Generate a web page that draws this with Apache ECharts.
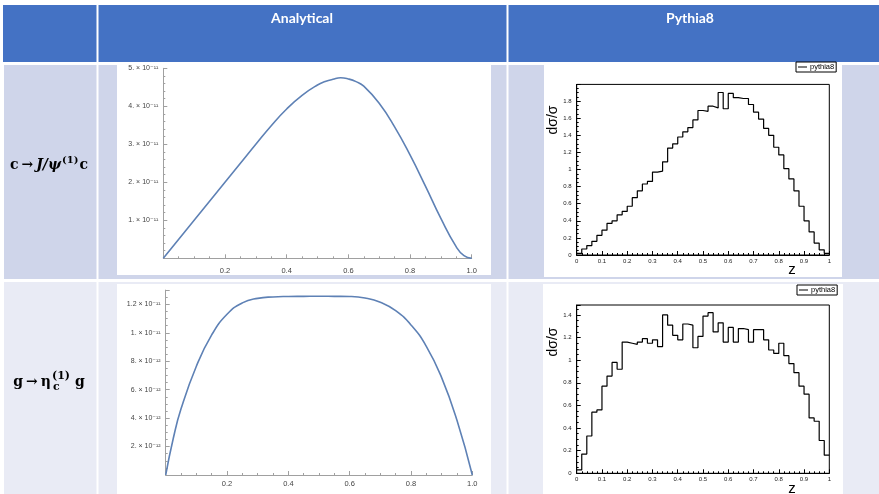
<!DOCTYPE html>
<html><head><meta charset="utf-8">
<script src="https://cdn.jsdelivr.net/npm/echarts@6/dist/echarts.min.js"></script>
<style>html,body{margin:0;padding:0;background:#fff}#c{width:879px;height:494px}</style>
</head><body><div id="c"></div>
<script>
// ---------------- data ----------------
const columnHeaders = ['Analytical', 'Pythia8'];

// Analytical curve, c -> J/psi(1) c
const analyticZ1 = [0, 0.05, 0.1, 0.15, 0.2, 0.25, 0.3, 0.35, 0.4, 0.45, 0.5, 0.525, 0.55, 0.575, 0.6, 0.625, 0.65, 0.7, 0.75, 0.8, 0.85, 0.9, 0.95, 0.975, 1.0];
const analyticV1 = [0, 0.5e-11, 1.0e-11, 1.5e-11, 2.0e-11, 2.5e-11, 3.0e-11, 3.49e-11, 3.93e-11, 4.29e-11, 4.56e-11, 4.65e-11, 4.71e-11, 4.75e-11, 4.72e-11, 4.65e-11, 4.53e-11, 4.08e-11, 3.46e-11, 2.72e-11, 1.90e-11, 1.05e-11, 0.30e-11, 0.07e-11, 0];
const analyticYLabels1 = ['1. × 10⁻¹¹', '2. × 10⁻¹¹', '3. × 10⁻¹¹', '4. × 10⁻¹¹', '5. × 10⁻¹¹'];

// Analytical curve, g -> eta_c(1) g
const analyticZ2 = [0, 0.025, 0.05, 0.1, 0.15, 0.2, 0.25, 0.3, 0.35, 0.4, 0.45, 0.5, 0.55, 0.6, 0.65, 0.7, 0.75, 0.8, 0.85, 0.9, 0.95, 1.0];
const analyticV2 = [0, 2.6e-12, 4.65e-12, 7.65e-12, 9.85e-12, 11.3e-12, 12.1e-12, 12.42e-12, 12.52e-12, 12.55e-12, 12.56e-12, 12.57e-12, 12.56e-12, 12.55e-12, 12.45e-12, 12.15e-12, 11.55e-12, 10.55e-12, 9.05e-12, 6.85e-12, 3.85e-12, 0];
const analyticYLabels2 = ['2. × 10⁻¹²', '4. × 10⁻¹²', '6. × 10⁻¹²', '8. × 10⁻¹²', '1. × 10⁻¹¹', '1.2 × 10⁻¹¹'];

const analyticXLabels = ['0.2', '0.4', '0.6', '0.8', '1.0'];

// Pythia8 histograms, 50 bins on z in [0,1]
const pythiaBins1 = [0.02, 0.07, 0.11, 0.16, 0.23, 0.29, 0.37, 0.40, 0.47, 0.51,
  0.57, 0.67, 0.75, 0.83, 0.86, 0.97, 0.98, 1.09, 1.25, 1.30,
  1.38, 1.44, 1.49, 1.58, 1.69, 1.68, 1.74, 1.72, 1.90, 1.71,
  1.89, 1.84, 1.83, 1.83, 1.76, 1.67, 1.59, 1.48, 1.40, 1.26,
  1.17, 1.01, 0.89, 0.75, 0.57, 0.40, 0.27, 0.14, 0.06, 0.02];
const pythiaBins2 = [0.03, 0.17, 0.33, 0.54, 0.56, 0.77, 0.86, 0.98, 0.92, 1.16,
  1.15, 1.14, 1.16, 1.19, 1.15, 1.18, 1.12, 1.40, 1.31, 1.22,
  1.18, 1.32, 1.31, 1.11, 1.21, 1.39, 1.42, 1.25, 1.33, 1.16,
  1.29, 1.16, 1.28, 1.27, 1.16, 1.27, 1.27, 1.18, 1.09, 1.06,
  1.15, 1.04, 0.97, 0.89, 0.77, 0.70, 0.49, 0.46, 0.29, 0.16];
const pythiaXLabels = ['0', '0.1', '0.2', '0.3', '0.4', '0.5', '0.6', '0.7', '0.8', '0.9', '1'];
const pythiaYLabels1 = ['0', '0.2', '0.4', '0.6', '0.8', '1', '1.2', '1.4', '1.6', '1.8'];
const pythiaYLabels2 = ['0', '0.2', '0.4', '0.6', '0.8', '1', '1.2', '1.4'];
const pythiaName = 'pythia8';
const pythiaYTitle = 'dσ/σ';
const pythiaXTitle = 'z';

// ---------------- helpers ----------------
function labelAt(labels, interval, offset) {
  return function (v) {
    const k = v / interval;
    const r = Math.round(k);
    if (Math.abs(k - r) > 1e-6) return '';
    return labels[r - offset] || '';
  };
}
function histPoints(bins) {
  const w = 1 / bins.length;
  const pts = bins.map((v, i) => [i * w, v]);
  pts.push([1, bins[bins.length - 1]]);
  return pts;
}
function curvePoints(zs, vs) { return zs.map((z, i) => [z, vs[i]]); }

const mGray = '#a0a0a0';
const mText = '#444';
function mathAxisX(gi, margin) {
  return {
    gridIndex: gi, type: 'value', min: 0, max: 1, interval: 0.2, z: 10,
    axisLine: { onZero: false, lineStyle: { color: mGray, width: 1 } },
    axisTick: { inside: true, length: 4, lineStyle: { color: mGray } },
    minorTick: { show: true, splitNumber: 4, length: 2, lineStyle: { color: mGray } },
    splitLine: { show: false },
    axisLabel: { margin: margin, fontSize: 7.5, color: mText, fontFamily: 'Liberation Sans, DejaVu Sans', formatter: labelAt(analyticXLabels, 0.2, 1) }
  };
}
function mathAxisY(gi, max, interval, labels, minorSplit) {
  return {
    gridIndex: gi, type: 'value', min: 0, max: max, interval: interval, z: 10,
    axisLine: { show: true, onZero: false, lineStyle: { color: mGray, width: 1 } },
    axisTick: { show: true, inside: true, length: 4, lineStyle: { color: mGray } },
    minorTick: { show: true, splitNumber: minorSplit, length: 2, lineStyle: { color: mGray } },
    splitLine: { show: false },
    axisLabel: { margin: 5, fontSize: 7, color: mText, fontFamily: 'Liberation Sans, DejaVu Sans', formatter: labelAt(labels, interval, 1) }
  };
}
function rootAxisX(gi) {
  return {
    gridIndex: gi, type: 'value', min: 0, max: 1, interval: 0.1, z: 10,
    axisLine: { onZero: false, lineStyle: { color: '#000', width: 1 } },
    axisTick: { inside: true, length: 4, lineStyle: { color: '#000', width: 1 } },
    minorTick: { show: true, splitNumber: 5, length: 2, lineStyle: { color: '#000', width: 1 } },
    splitLine: { show: false },
    axisLabel: { margin: 3, fontSize: 6, color: '#222', fontFamily: 'Liberation Sans', formatter: labelAt(pythiaXLabels, 0.1, 0) }
  };
}
function rootAxisY(gi, max, labels) {
  return {
    gridIndex: gi, type: 'value', min: 0, max: max, interval: 0.2, z: 10,
    axisLine: { show: true, onZero: false, lineStyle: { color: '#000', width: 1 } },
    axisTick: { show: true, inside: true, length: 4, lineStyle: { color: '#000', width: 1 } },
    minorTick: { show: true, splitNumber: 4, length: 2, lineStyle: { color: '#000', width: 1 } },
    splitLine: { show: false },
    axisLabel: { margin: 5, fontSize: 6, color: '#222', fontFamily: 'Liberation Sans', formatter: labelAt(labels, 0.2, 0) }
  };
}

// ---------------- table layout ----------------
const headerColor = '#4472C4';
const row1Color = '#CFD5EA';
const row2Color = '#E9EBF5';
const graphics = [];
function rect(x, y, w, h, fill, z) {
  graphics.push({ type: 'rect', z: z || 0, silent: true, shape: { x, y, width: w, height: h }, style: { fill } });
}
rect(3, 5, 876, 57, headerColor);
rect(4, 65, 875, 214, row1Color);
rect(4, 282, 875, 212, row2Color);
rect(96.5, 0, 2, 494, '#fff', 1);
rect(506.5, 0, 2, 494, '#fff', 1);
rect(117, 64, 374, 211, '#fff', 2);
rect(544, 63, 298, 214, '#fff', 2);
rect(117, 284, 374, 210, '#fff', 2);
rect(543, 284, 300, 210, '#fff', 2);

graphics.push({ type: 'text', z: 5, x: 302, y: 18, style: { text: columnHeaders[0], font: 'bold 14px Lato', fill: '#fff', textAlign: 'center', textVerticalAlign: 'middle', align: 'center', verticalAlign: 'middle' } });
graphics.push({ type: 'text', z: 5, x: 690, y: 18, style: { text: columnHeaders[1], font: 'bold 14px Lato', fill: '#fff', textAlign: 'center', textVerticalAlign: 'middle', align: 'center', verticalAlign: 'middle' } });

const measureCtx = document.createElement('canvas').getContext('2d');
function textW(t, font) { measureCtx.font = font; return measureCtx.measureText(t).width; }
function mathLabel(pieces, cx, cy) {
  const widths = pieces.map(p => p.stack ? Math.max(textW(p.stack[0], p.font), textW(p.stack[1], p.font)) : textW(p.t, p.font));
  const total = widths.reduce((a, b) => a + b, 0) + pieces.reduce((a, p) => a + (p.gap || 0), 0);
  let x = cx - total / 2;
  pieces.forEach((p, i) => {
    x += p.gap || 0;
    if (p.stack) {
      graphics.push({ type: 'text', z: 5, x: x, y: cy + p.dyTop, style: { text: p.stack[0], font: p.font, fill: '#000', textVerticalAlign: 'middle', verticalAlign: 'middle' } });
      graphics.push({ type: 'text', z: 5, x: x + 1, y: cy + p.dyBot, style: { text: p.stack[1], font: p.font, fill: '#000', textVerticalAlign: 'middle', verticalAlign: 'middle' } });
    } else {
      graphics.push({ type: 'text', z: 5, x: x, y: cy + (p.dy || 0), style: { text: p.t, font: p.font, fill: '#000', textVerticalAlign: 'middle', verticalAlign: 'middle' } });
    }
    x += widths[i];
  });
}
const fB = 'bold 14px "DejaVu Serif"';
const fBI = 'italic bold 14px "DejaVu Serif"';
const fS = 'bold 10px "DejaVu Serif"';
mathLabel([
  { t: 'c', font: fB }, { t: '→', font: fB, gap: 3 }, { t: 'J/ψ', font: fBI, gap: 3 },
  { t: '(1)', font: fS, dy: -5, gap: 1 }, { t: 'c', font: fB, gap: 1 }
], 49, 165);
mathLabel([
  { t: 'g', font: fB }, { t: '→', font: fB, gap: 3 }, { t: 'η', font: fB, gap: 3 },
  { stack: ['(1)', 'c'], font: 'bold 11px "DejaVu Serif"', dyTop: -6, dyBot: 5, gap: 1 },
  { t: 'g', font: fB, gap: 5 }
], 49, 382);

[[120, 270], [342, 489]].forEach((p) => {
  graphics.push({ type: 'text', z: 5, x: 553, y: p[0], rotation: Math.PI / 2, style: { text: pythiaYTitle, font: '14px "Liberation Sans"', fill: '#000', textAlign: 'center', textVerticalAlign: 'middle', align: 'center', verticalAlign: 'middle' } });
  graphics.push({ type: 'text', z: 5, x: 792, y: p[1], style: { text: pythiaXTitle, font: '15px "Liberation Sans"', fill: '#000', textAlign: 'center', textVerticalAlign: 'middle', align: 'center', verticalAlign: 'middle' } });
});

// ---------------- chart ----------------
const grids = [
  { left: 163.3, top: 68.3, width: 308.4, height: 190 },
  { left: 165.7, top: 290.1, width: 306.6, height: 184.9 },
  { left: 576.7, top: 84.4, width: 252.6, height: 170.6, show: true, borderColor: '#000', borderWidth: 1, backgroundColor: 'transparent' },
  { left: 576.7, top: 305, width: 252.6, height: 168.3, show: true, borderColor: '#000', borderWidth: 1, backgroundColor: 'transparent' }
].map(g => Object.assign({ containLabel: false, outerBoundsMode: 'none', z: 9 }, g));

const legendBase = { data: [pythiaName], orient: 'horizontal', icon: 'rect', itemWidth: 9, itemHeight: 1, itemGap: 0, padding: [1, 2, 1, 2], borderColor: '#000', borderWidth: 1, backgroundColor: '#fff', textStyle: { fontSize: 7.5, fontFamily: 'Liberation Sans', color: '#000', padding: [0, 0, 0, -2] }, selectedMode: false };

const chart = echarts.init(document.getElementById('c'), null, { renderer: 'canvas' });
chart.setOption({
  animation: false,
  backgroundColor: '#fff',
  graphic: { elements: graphics },
  grid: grids,
  xAxis: [mathAxisX(0, 9), mathAxisX(1, 5), rootAxisX(2), rootAxisX(3)],
  yAxis: [
    mathAxisY(0, 5e-11, 1e-11, analyticYLabels1, 5),
    mathAxisY(1, 1.3e-11, 2e-12, analyticYLabels2, 4),
    rootAxisY(2, 1.995, pythiaYLabels1),
    rootAxisY(3, 1.488, pythiaYLabels2)
  ],
  legend: [
    Object.assign({}, legendBase, { left: 796, top: 62 }),
    Object.assign({}, legendBase, { left: 797, top: 285 })
  ],
  series: [
    { type: 'line', xAxisIndex: 0, yAxisIndex: 0, data: curvePoints(analyticZ1, analyticV1), smooth: 0.5, symbol: 'none', z: 11, lineStyle: { color: '#5E81B5', width: 1.6 } },
    { type: 'line', xAxisIndex: 1, yAxisIndex: 1, data: curvePoints(analyticZ2, analyticV2), smooth: 0.5, symbol: 'none', z: 11, lineStyle: { color: '#5E81B5', width: 1.6 } },
    { type: 'line', name: pythiaName, xAxisIndex: 2, yAxisIndex: 2, data: histPoints(pythiaBins1), step: 'end', symbol: 'none', z: 11, lineStyle: { color: '#000', width: 1.2 }, itemStyle: { color: '#000' } },
    { type: 'line', name: pythiaName, xAxisIndex: 3, yAxisIndex: 3, data: histPoints(pythiaBins2), step: 'end', symbol: 'none', z: 11, lineStyle: { color: '#000', width: 1.2 }, itemStyle: { color: '#000' } }
  ]
});
</script></body></html>
